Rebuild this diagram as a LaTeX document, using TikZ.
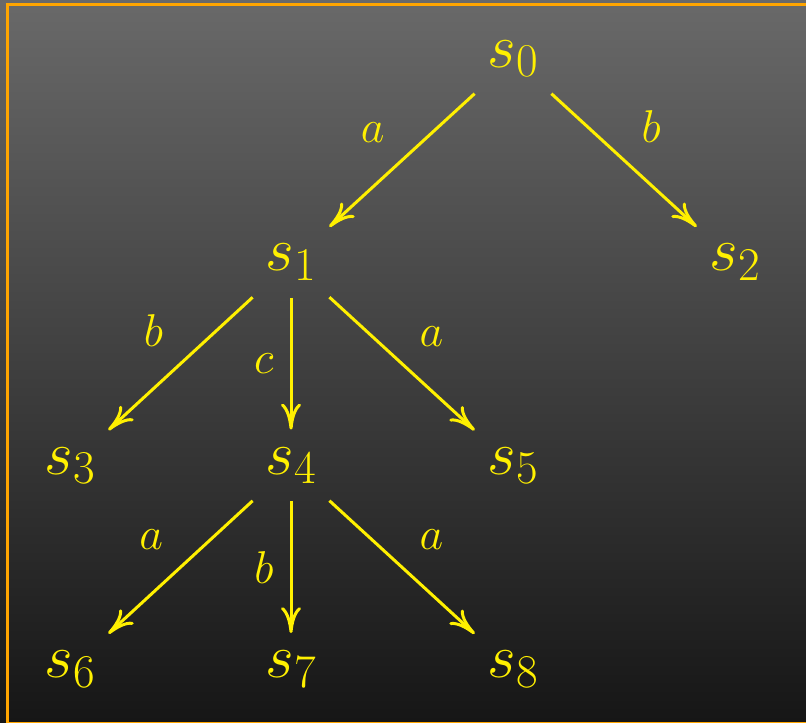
\RequirePackage{fix-cm}
\documentclass[tikz,border=0pt]{standalone}
\usetikzlibrary{arrows.meta}
\DeclareMathSizes{31}{31}{23.5}{17}
\definecolor{bgtop}{RGB}{105,105,105}
\definecolor{bgbot}{RGB}{22,22,22}
\definecolor{frameor}{RGB}{255,165,0}
\definecolor{ink}{RGB}{255,240,0}
\begin{document}
\begin{tikzpicture}[x=1pt,y=1pt,
  state/.style={rectangle, inner sep=0pt, minimum width=38pt, minimum height=35.5pt, text=ink, font=\fontsize{31}{37}\selectfont},
  trans/.style={draw=ink, line width=1.5pt, -{Computer Modern Rightarrow[length=13pt,width=10pt]}},
  lbl/.style={text=ink, inner sep=8pt, font=\fontsize{23}{28}\selectfont}]
\useasboundingbox (0,0) rectangle (403,-361);
\clip (0,0) rectangle (403,-361);
\shade[top color=bgtop,bottom color=bgbot] (0,0) rectangle (403,-361);
\draw[frameor, line width=1.5pt] (3.75,-2.25) rectangle (410,-361.6);
\node[state] (s0) at (256.5,-29.25) {$s_0$};
\node[state] (s1) at (145.5,-131) {$s_1$};
\node[state] (s2) at (367.5,-131) {$s_2$};
\node[state] (s3) at (35,-232.75) {$s_3$};
\node[state] (s4) at (145.5,-232.75) {$s_4$};
\node[state] (s5) at (256.5,-232.75) {$s_5$};
\node[state] (s6) at (35,-334.5) {$s_6$};
\node[state] (s7) at (145.5,-334.5) {$s_7$};
\node[state] (s8) at (256.5,-334.5) {$s_8$};
\draw[trans] (s0) -- node[lbl, above left]{$a$} (s1);
\draw[trans] (s0) -- node[lbl, above right]{$b$} (s2);
\draw[trans] (s1) -- node[lbl, above left]{$b$} (s3);
\draw[trans] (s1) -- node[lbl, left]{$c$} (s4);
\draw[trans] (s1) -- node[lbl, above right]{$a$} (s5);
\draw[trans] (s4) -- node[lbl, above left]{$a$} (s6);
\draw[trans] (s4) -- node[lbl, left]{$b$} (s7);
\draw[trans] (s4) -- node[lbl, above right]{$a$} (s8);
\end{tikzpicture}
\end{document}
